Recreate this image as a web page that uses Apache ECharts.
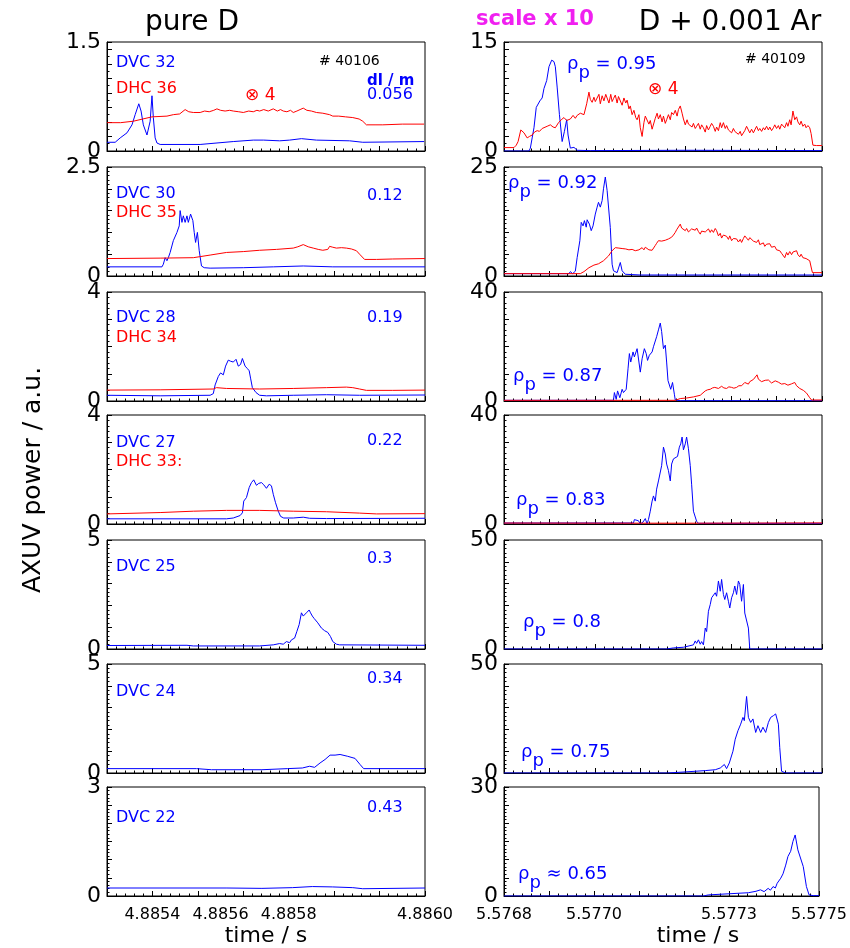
<!DOCTYPE html>
<html>
<head>
<meta charset="utf-8" />
<title>AXUV power</title>
<script type="text/javascript" src="https://cdn.jsdelivr.net/npm/echarts@6/dist/echarts.min.js"></script>
</head>
<body style="margin:0;background-color:white;">
<div id="main" style="width:850px;height:948px;"></div>
<script type="text/javascript">
// time is in microseconds from the left edge of each time window
// pure D, shot 40106 (left column)
var l1Dvc = [[0,.12],[18,.12],[29,.18],[44,.25],[55,.36],[62,.5],[70,.65],[75,.55],[80,.36],[88,.22],[91,.2],[95,.41],[99,.76],[102,.46],[106,.18],[110,.11],[117,.09],[205,.09],[278,.13],[322,.15],[345,.15],[380,.14],[402,.15],[428,.17],[461,.15],[534,.14],[563,.12],[698,.13]];
var l1Dhc = [[0,.39],[30,.39],[58,.41],[99,.47],[132,.48],[146,.5],[160,.51],[172,.57],[180,.54],[190,.53],[205,.53],[215,.55],[225,.54],[235,.56],[242,.58],[250,.56],[260,.55],[270,.56],[278,.55],[290,.54],[300,.53],[312,.55],[322,.54],[330,.56],[336,.55],[345,.57],[355,.55],[366,.58],[375,.55],[382,.57],[388,.55],[396,.54],[404,.56],[410,.53],[418,.55],[425,.57],[432,.59],[440,.56],[450,.55],[461,.53],[475,.52],[490,.5],[497,.48],[510,.48],[525,.47],[541,.46],[555,.44],[563,.41],[571,.36],[590,.36],[607,.36],[650,.37],[698,.37]];
var l2Dvc = [[0,.21],[121,.21],[124,.27],[128,.42],[132,.35],[135,.42],[139,.54],[146,.81],[154,1.0],[159,1.15],[161,1.5],[165,1.23],[168,1.38],[172,1.23],[176,1.38],[179,1.23],[184,1.42],[189,1.27],[192,1.0],[195,.77],[199,1.0],[203,.58],[208,.23],[214,.19],[227,.18],[300,.19],[366,.21],[432,.23],[497,.21],[700,.21]];
var l2Dhc = [[0,.40],[117,.41],[190,.42],[227,.48],[263,.54],[300,.56],[336,.59],[373,.61],[410,.64],[420,.67],[432,.72],[443,.67],[454,.64],[465,.61],[475,.59],[486,.61],[490,.68],[497,.66],[505,.64],[516,.65],[527,.64],[538,.62],[549,.58],[556,.5],[560,.48],[567,.38],[593,.38],[629,.39],[700,.40]];
var l3Dvc = [[0,.21],[117,.19],[227,.21],[234,.27],[238,.59],[245,.9],[250,1.03],[256,.96],[261,1.28],[267,1.5],[272,1.46],[278,1.43],[284,1.53],[289,1.28],[294,1.34],[298,1.56],[304,1.28],[309,1.19],[313,1.11],[316,.84],[320,.49],[328,.31],[336,.21],[351,.19],[410,.21],[483,.23],[556,.21],[700,.22]];
var l3Dhc = [[0,.40],[117,.41],[234,.44],[241,.49],[263,.46],[336,.44],[410,.46],[483,.49],[527,.51],[541,.49],[556,.44],[571,.39],[629,.39],[700,.40]];
var l4Dvc = [[0,.19],[263,.19],[278,.22],[293,.31],[298,.41],[301,.84],[307,.97],[313,1.34],[318,1.52],[323,1.62],[329,1.42],[334,1.49],[340,1.52],[345,1.44],[351,1.31],[357,1.46],[362,1.4],[366,1.09],[371,.78],[377,.47],[382,.28],[389,.22],[410,.22],[432,.25],[446,.21],[483,.2],[700,.21]];
var l4Dhc = [[0,.37],[117,.42],[190,.47],[263,.5],[336,.5],[410,.47],[483,.45],[556,.4],[593,.37],[700,.38]];
var l5Dvc = [[0,.16],[176,.17],[190,.14],[336,.14],[366,.19],[380,.25],[388,.22],[395,.34],[402,.29],[406,.42],[410,.37],[413,.5],[418,.81],[423,1.12],[428,1.66],[432,1.51],[435,1.46],[439,1.66],[445,1.79],[448,1.66],[452,1.51],[456,1.4],[459,1.46],[464,1.2],[472,.96],[479,.84],[486,.76],[492,.57],[497,.34],[505,.22],[512,.19],[700,.17]];
var l6Dvc = [[0,.2],[197,.2],[230,.15],[341,.15],[397,.2],[430,.23],[446,.31],[457,.26],[469,.46],[480,.62],[491,.82],[502,.82],[513,.85],[529,.77],[546,.67],[557,.39],[565,.2],[700,.2]];
var l7Dvc = [[0,.22],[264,.22],[341,.21],[408,.23],[452,.26],[496,.25],[541,.23],[563,.2],[700,.22]];

// D + 0.001 Ar, shot 40109 (right column)
var r1Blue = [[0,0],[55,0],[58,.4],[62,1.8],[66,3.2],[71,6.0],[75,6.1],[79,6.9],[84,7.3],[88,8.6],[94,9.7],[99,11.6],[105,12.5],[110,12.3],[113,11.6],[117,8.8],[122,5.0],[128,1.3],[133,2.7],[138,4.3],[141,2.2],[146,.4],[154,.5],[161,.1],[190,.05],[400,.1],[700,.05]];
var r1Red = [[0,.47],[22,.47],[27,.8],[31,1.3],[37,2.9],[41,2.7],[44,2.5],[51,1.8],[56,2.0],[62,2.2],[67,2.6],[73,2.8],[78,2.7],[84,3.1],[88,3.2],[95,3.4],[102,3.6],[108,3.3],[113,3.2],[120,3.9],[126,4.3],[132,4.6],[138,4.2],[146,4.4],[152,4.9],[157,4.5],[161,4.9],[168,5.2],[176,5.0],[182,6.5],[187,8.1],[190,7.1],[194,6.7],[198,7.4],[201,6.8],[205,7.0],[209,7.8],[212,6.5],[216,7.6],[220,6.9],[224,7.8],[227,7.6],[231,6.6],[235,7.8],[238,6.8],[241,7.2],[245,7.7],[249,6.6],[252,7.5],[256,7.4],[260,6.3],[264,7.3],[268,6.6],[271,7.0],[275,5.8],[278,6.2],[282,5.0],[286,5.6],[290,4.6],[293,4.3],[297,5.0],[300,3.2],[304,2.0],[308,3.9],[311,4.8],[315,4.6],[319,3.7],[322,4.2],[326,3.0],[329,3.2],[333,4.5],[337,5.2],[340,4.4],[344,5.0],[348,4.0],[351,4.8],[355,3.8],[358,4.3],[362,5.0],[366,4.3],[369,5.3],[373,5.0],[377,5.6],[381,4.8],[384,5.7],[388,6.2],[392,5.2],[395,4.4],[399,3.6],[403,4.3],[406,3.7],[410,3.9],[414,3.3],[417,3.8],[421,3.1],[424,3.4],[428,3.8],[432,3.0],[435,3.6],[439,3.2],[443,2.6],[446,3.5],[450,2.9],[454,3.4],[457,3.8],[461,3.4],[465,2.7],[468,3.3],[472,2.8],[476,3.9],[479,3.2],[483,3.9],[487,3.1],[490,3.5],[494,2.9],[497,3.0],[501,2.5],[505,3.1],[508,2.7],[512,2.7],[516,2.3],[520,2.7],[523,2.1],[527,2.2],[530,2.8],[534,3.4],[538,3.6],[541,2.5],[545,3.0],[549,2.5],[552,2.9],[556,3.4],[560,2.8],[563,3.1],[567,2.7],[571,3.2],[574,2.9],[578,3.4],[582,2.9],[585,3.3],[589,2.8],[593,3.2],[596,3.6],[600,3.1],[604,3.5],[607,3.0],[611,3.7],[614,3.6],[618,3.2],[622,3.9],[625,3.4],[629,4.3],[632,3.6],[636,5.5],[640,4.3],[644,4.7],[647,4.0],[651,3.6],[654,4.1],[658,3.4],[662,3.7],[665,3.2],[669,3.5],[673,3.2],[676,2.4],[680,.8],[688,.75],[700,.75]];
var r2Blue = [[0,.54],[143,.54],[146,1.0],[151,.54],[157,1.1],[161,4.2],[167,8.1],[170,12.3],[174,11.5],[177,12.7],[181,11.2],[183,12.9],[188,11.9],[192,10.4],[196,11.5],[201,14.2],[205,15.8],[208,16.9],[212,15.8],[216,17.3],[219,20.0],[223,22.7],[227,19.6],[230,19.2],[234,11.1],[238,2.7],[241,1.2],[249,.77],[256,3.1],[260,1.2],[267,.4],[300,.23],[700,.23]];
var r2Red = [[0,.54],[168,.54],[176,1.0],[187,1.9],[198,2.5],[208,2.8],[219,3.5],[230,4.6],[238,5.8],[245,6.5],[249,6.1],[253,6.4],[256,6.0],[260,6.3],[264,5.9],[268,6.2],[271,6.6],[275,6.0],[279,6.4],[282,6.1],[285,6.3],[289,5.8],[293,6.2],[297,6.0],[300,6.2],[304,6.5],[308,6.0],[311,6.6],[315,6.5],[319,6.0],[322,6.4],[326,5.9],[329,6.2],[333,7.0],[336,7.5],[340,8.1],[344,7.8],[347,8.0],[351,7.9],[355,8.2],[358,8.0],[362,8.5],[366,8.7],[369,8.9],[373,9.4],[377,10.0],[380,10.6],[384,11.0],[388,11.9],[391,11.0],[395,10.7],[399,10.4],[402,10.9],[406,10.1],[410,10.0],[413,10.8],[417,10.4],[421,10.5],[424,11.0],[428,10.2],[432,9.6],[435,10.3],[439,10.6],[443,10.1],[446,10.4],[450,10.8],[454,10.0],[457,10.6],[461,10.0],[465,10.9],[468,10.4],[472,9.2],[476,9.8],[479,8.7],[483,9.4],[487,9.0],[490,9.1],[494,8.4],[497,9.2],[501,8.1],[505,8.6],[508,8.9],[512,8.5],[516,7.8],[520,8.4],[523,7.7],[527,8.6],[530,9.2],[534,8.7],[538,8.2],[541,8.8],[545,8.7],[549,8.0],[552,7.9],[556,7.7],[560,8.3],[563,7.2],[567,6.9],[571,7.6],[574,6.8],[578,7.3],[582,6.9],[585,7.4],[589,6.6],[593,6.2],[596,6.8],[600,6.0],[604,5.6],[607,5.8],[611,5.2],[614,5.6],[618,4.2],[622,5.4],[625,4.8],[629,5.6],[633,4.9],[636,5.5],[640,5.1],[644,5.8],[647,4.9],[651,4.4],[654,5.0],[658,4.2],[662,3.9],[665,4.0],[669,3.7],[673,3.5],[677,1.6],[679,.77],[700,.77]];
var r3Blue = [[0,.25],[241,.25],[243,3.1],[247,.6],[250,3.7],[255,1.2],[260,4.3],[263,3.1],[269,4.3],[273,11.8],[276,17.4],[279,14.3],[284,18.0],[287,16.2],[293,19.2],[297,14.3],[300,10.6],[304,15.5],[309,19.2],[313,17.4],[316,14.9],[320,16.8],[326,18.0],[329,19.9],[333,19.2],[336,23.6],[340,26.1],[344,28.6],[347,25.5],[351,19.2],[355,20.5],[358,14.3],[361,7.5],[364,6.8],[367,4.3],[371,6.8],[375,2.5],[377,.37],[388,.12],[700,.12]];
var r3Red = [[0,.25],[377,.25],[388,.9],[402,1.1],[417,1.5],[432,2.1],[443,3.7],[448,4.1],[454,4.3],[459,4.8],[464,5.0],[468,4.4],[472,4.6],[475,5.3],[479,5.4],[484,4.8],[490,4.6],[495,5.2],[501,5.0],[506,4.7],[512,5.0],[517,5.6],[523,5.6],[527,6.2],[530,6.8],[534,6.3],[538,6.2],[541,7.1],[545,7.5],[549,7.9],[552,8.1],[557,9.6],[560,8.0],[563,7.5],[567,7.1],[571,6.8],[575,7.6],[578,7.2],[582,7.7],[586,7.0],[589,6.6],[593,6.8],[597,7.4],[600,7.8],[604,6.9],[607,6.5],[611,6.2],[615,6.1],[618,6.4],[622,6.2],[625,5.8],[629,5.6],[633,6.3],[636,6.1],[640,6.8],[644,5.6],[647,4.9],[651,4.6],[655,4.3],[659,3.9],[662,3.7],[666,2.9],[669,2.5],[673,1.2],[677,.37],[700,.37]];
var r4Blue = [[0,.37],[285,.37],[287,1.6],[291,1.0],[296,1.2],[300,0],[306,.7],[311,2.0],[315,0],[318,1.6],[322,4.7],[326,8.4],[329,10.3],[333,8.4],[336,12.8],[340,15.8],[344,15.8],[347,21.4],[351,28.2],[355,25.7],[358,22.0],[362,19.6],[366,15.8],[369,22.0],[373,23.9],[377,24.5],[382,24.8],[386,28.2],[389,29.4],[392,31.9],[395,27.2],[399,29.4],[402,31.9],[406,27.6],[410,21.4],[413,14.6],[417,4.7],[421,5.3],[424,1.0],[428,.25],[700,.25]];
var r4Red = [[0,.35],[300,.3],[430,.3],[700,.4]];
var r5Blue = [[0,0],[358,0],[373,.5],[395,.8],[417,1.9],[421,3.7],[424,2.6],[428,4.2],[432,2.2],[435,3.4],[439,1.9],[443,9.6],[446,8.0],[450,17.3],[454,20.4],[457,23.5],[461,22.7],[465,25.8],[468,24.2],[472,31.2],[476,26.5],[479,31.9],[483,25.0],[486,22.7],[490,25.8],[494,21.9],[497,18.8],[501,23.5],[505,25.8],[508,28.9],[512,25.0],[516,31.2],[519,29.6],[523,21.9],[527,29.6],[530,16.5],[534,17.3],[538,9.6],[541,0],[700,0]];
var r6Blue = [[0,0],[360,0],[399,.5],[443,1.1],[465,1.5],[476,2.3],[485,3.9],[490,2.0],[496,4.6],[504,10.0],[509,15.5],[515,19.4],[521,22.4],[526,25.5],[529,24.0],[534,35.1],[538,25.5],[543,23.2],[548,24.8],[554,18.6],[559,21.7],[565,18.6],[570,21.0],[576,18.6],[582,23.2],[587,25.5],[593,26.3],[598,27.1],[604,22.4],[607,11.6],[611,.8],[620,0],[700,0]];
var r7Blue = [[0,0],[443,0],[454,.3],[498,.6],[543,.9],[560,1.3],[570,1.7],[578,1.2],[587,2.1],[592,1.6],[598,2.6],[603,2.2],[607,3.5],[611,3.3],[615,4.9],[620,6.1],[626,8.5],[631,10.9],[637,12.3],[642,15.0],[647,16.8],[653,12.7],[665,8.1],[672,2.6],[678,.3],[687,.1],[700,.1]];

var leftBlue = [l1Dvc, l2Dvc, l3Dvc, l4Dvc, l5Dvc, l6Dvc, l7Dvc];
var leftRed = [l1Dhc, l2Dhc, l3Dhc, l4Dhc, null, null, null];
var rightBlue = [r1Blue, r2Blue, r3Blue, r4Blue, r5Blue, r6Blue, r7Blue];
var rightRed = [r1Red, r2Red, r3Red, r4Red, null, null, null];

var leftMax = [1.5, 2.5, 4, 4, 5, 5, 3];
var leftStep = [0.2, 0.5, 1, 1, 1, 1, 0.5];
var rightMax = [15, 25, 40, 40, 50, 50, 30];
var rightStep = [2, 5, 10, 10, 10, 10, 5];

var leftTickPos = [100, 250, 400, 700];
var leftTickText = ['4.8854', '4.8856', '4.8858', '4.8860'];
var rightTickPos = [0, 200, 500, 700];
var rightTickText = ['5.5768', '5.5770', '5.5773', '5.5775'];

var dvcNames = ['DVC 32', 'DVC 30', 'DVC 28', 'DVC 27', 'DVC 25', 'DVC 24', 'DVC 22'];
var dhcNames = ['DHC 36', 'DHC 35', 'DHC 34', 'DHC 33:'];
var dlValues = ['0.056', '0.12', '0.19', '0.22', '0.3', '0.34', '0.43'];
var rhoValues = ['= 0.95', '= 0.92', '= 0.87', '= 0.83', '= 0.8', '= 0.75', '\u2248 0.65'];

// layout
var rowTop = [42, 167, 292, 415, 540, 664, 787];
var panelH = 109, panelW = 318;
var colLeft = [107, 504];
var dvcDy = [20.5, 27, 26, 27.7, 27, 27.7, 30.5];
var dhcDy = [46.5, 46, 45.5, 46.7];
var dlDy = [53, 29, 25.5, 25.8, 19, 15, 20.5];
var rhoX = [567, 508, 513, 516, 523, 521, 518];
var rhoY = [64, 183, 376, 500, 622.5, 752.5, 874];

var FONT = 'DejaVu Sans';
var BLUE = '#0000ff', RED = '#ff0000';

var grids = [], xAxes = [], yAxes = [], series = [], graphics = [];

function lineSeries(idx, data, color) {
    return {
        type: 'line', xAxisIndex: idx, yAxisIndex: idx, data: data,
        showSymbol: false, symbol: 'none', silent: true,
        lineStyle: {color: color, width: 1}, itemStyle: {color: color}
    };
}

function addPanel(col, row, ymax, ystep, blue, red) {
    var idx = grids.length;
    var pos = col === 0 ? leftTickPos : rightTickPos;
    var txt = col === 0 ? leftTickText : rightTickText;
    grids.push({left: colLeft[col], top: rowTop[row], width: panelW, height: panelH,
        show: true, borderColor: '#000', borderWidth: 1});
    xAxes.push({
        gridIndex: idx, type: 'value', min: 0, max: 700, interval: 100,
        axisLine: {show: true, lineStyle: {color: '#000', width: 1}},
        axisTick: {show: true, inside: true, length: 5, lineStyle: {color: '#000'}},
        minorTick: {show: true, splitNumber: 5, length: 2.5, lineStyle: {color: '#000'}},
        splitLine: {show: false},
        axisLabel: {show: row === 6, customValues: pos, margin: 11,
            formatter: function (v) { return txt[pos.indexOf(v)]; },
            fontFamily: FONT, fontSize: 16, color: '#000'}
    });
    yAxes.push({
        gridIndex: idx, type: 'value', min: 0, max: ymax, interval: ystep,
        axisLine: {show: true, lineStyle: {color: '#000', width: 1}},
        axisTick: {show: true, inside: true, length: 5, lineStyle: {color: '#000'}},
        minorTick: {show: true, splitNumber: ystep === 0.2 || ystep === 2 ? 2 : 5, length: 2.5, lineStyle: {color: '#000'}},
        splitLine: {show: false},
        axisLabel: {customValues: [0, ymax], margin: 6, fontFamily: FONT, fontSize: 22, color: '#000'}
    });
    series.push(lineSeries(idx, blue, BLUE));
    if (red) series.push(lineSeries(idx, red, RED));
}

function addText(x, y, text, color, size, extra) {
    var style = {text: text, fill: color, font: (extra && extra.bold ? 'bold ' : '') + size + 'px "' + FONT + '"',
        align: (extra && extra.align) || 'left', verticalAlign: 'middle'};
    if (extra && extra.rich) style.rich = extra.rich;
    graphics.push({type: 'text', x: x, y: y, silent: true, style: style});
}

for (var r = 0; r < 7; r++) {
    addPanel(0, r, leftMax[r], leftStep[r], leftBlue[r], leftRed[r]);
    addPanel(1, r, rightMax[r], rightStep[r], rightBlue[r], rightRed[r]);

    addText(116, rowTop[r] + dvcDy[r], dvcNames[r], BLUE, 16);
    if (r < dhcNames.length) addText(116, rowTop[r] + dhcDy[r], dhcNames[r], RED, 16);
    addText(367, rowTop[r] + dlDy[r], dlValues[r], BLUE, 16);

    var rich = {
        a: {fontFamily: FONT, fontSize: 18, color: BLUE},
        s: {fontFamily: FONT, fontSize: 18, color: BLUE, padding: [18, 0, 0, 0]}
    };
    addText(rhoX[r], rhoY[r], '{a|\u03c1}{s|p}{a| ' + rhoValues[r] + '}', BLUE, 18, {rich: rich});
}

// headers and annotations
addText(192, 23, 'pure D', '#000', 28, {align: 'center'});
addText(535, 20, 'scale x 10', '#f020f0', 21, {align: 'center', bold: true});
addText(730, 23, 'D + 0.001 Ar', '#000', 28, {align: 'center'});
addText(319, 61, '# 40106', '#000', 14);
addText(745, 59, '# 40109', '#000', 14);
addText(367, 81, 'dl / m', BLUE, 15, {bold: true});
addText(245, 96, '\u2297 4', RED, 17);
addText(648, 90, '\u2297 4', RED, 17);
addText(266, 936, 'time / s', '#000', 22, {align: 'center'});
addText(698, 936, 'time / s', '#000', 22, {align: 'center'});
graphics.push({type: 'text', x: 33, y: 480, rotation: Math.PI / 2, silent: true,
    style: {text: 'AXUV power / a.u.', fill: '#000', font: '25px "' + FONT + '"', align: 'center', verticalAlign: 'middle'}});

var myChart = echarts.init(document.getElementById('main'));
myChart.setOption({
    animation: false,
    backgroundColor: '#fff',
    grid: grids,
    xAxis: xAxes,
    yAxis: yAxes,
    series: series,
    graphic: graphics
});
</script>
</body>
</html>
